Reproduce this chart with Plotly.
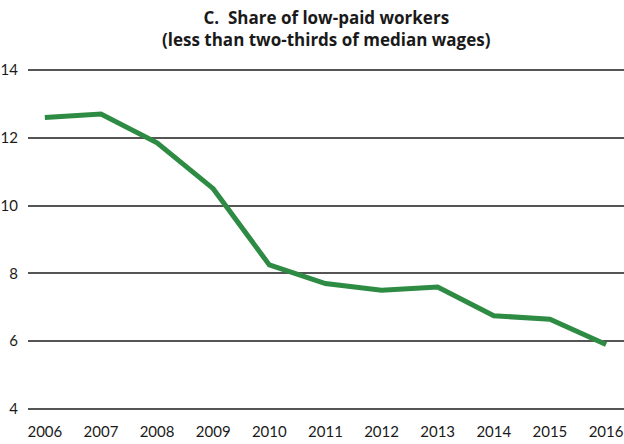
import plotly.graph_objects as go

years = [2006, 2007, 2008, 2009, 2010, 2011, 2012, 2013, 2014, 2015, 2016]
low_paid_share = [12.6, 12.7, 11.85, 10.5, 8.25, 7.7, 7.5, 7.6, 6.75, 6.65, 5.9]
y_ticks = [4, 6, 8, 10, 12, 14]
title_lines = ["C.  Share of low-paid workers", "(less than two-thirds of median wages)"]

FONT = "Lato, 'Open Sans', sans-serif"
TITLE_FONT = "'Open Sans', Lato, sans-serif"

fig = go.Figure()
fig.add_trace(go.Scatter(
    x=years,
    y=low_paid_share,
    mode="lines",
    line=dict(color="#2e8b43", width=5),
    hoverinfo="x+y",
))

# Two-line heading centred over the plot area
fig.add_annotation(
    text="<b>" + "<br>".join(title_lines) + "</b>",
    xref="paper", yref="paper",
    x=0.5, y=1.0,
    xanchor="center", yanchor="bottom",
    yshift=16,
    showarrow=False,
    align="center",
    font=dict(family=TITLE_FONT, size=17, color="#1a1a1a"),
)

fig.update_layout(
    width=624,
    height=444,
    paper_bgcolor="white",
    plot_bgcolor="white",
    margin=dict(l=28, r=0, t=69, b=34),
    showlegend=False,
    font=dict(family=FONT, size=15, color="#1a1a1a"),
    xaxis=dict(
        range=[2005.7, 2016.32],
        tickmode="array",
        tickvals=years,
        ticktext=[str(y) for y in years],
        showgrid=False,
        zeroline=False,
        showline=False,
        ticks="outside",
        ticklen=8,
        tickcolor="rgba(0,0,0,0)",
        tickfont=dict(size=15),
    ),
    yaxis=dict(
        range=[3.97, 14.03],
        tickmode="array",
        tickvals=y_ticks,
        showgrid=True,
        gridcolor="#555555",
        gridwidth=1.5,
        zeroline=False,
        showline=False,
        ticks="outside",
        ticklen=6,
        tickcolor="rgba(0,0,0,0)",
        tickfont=dict(size=15),
    ),
)

fig.write_html("out.html")
